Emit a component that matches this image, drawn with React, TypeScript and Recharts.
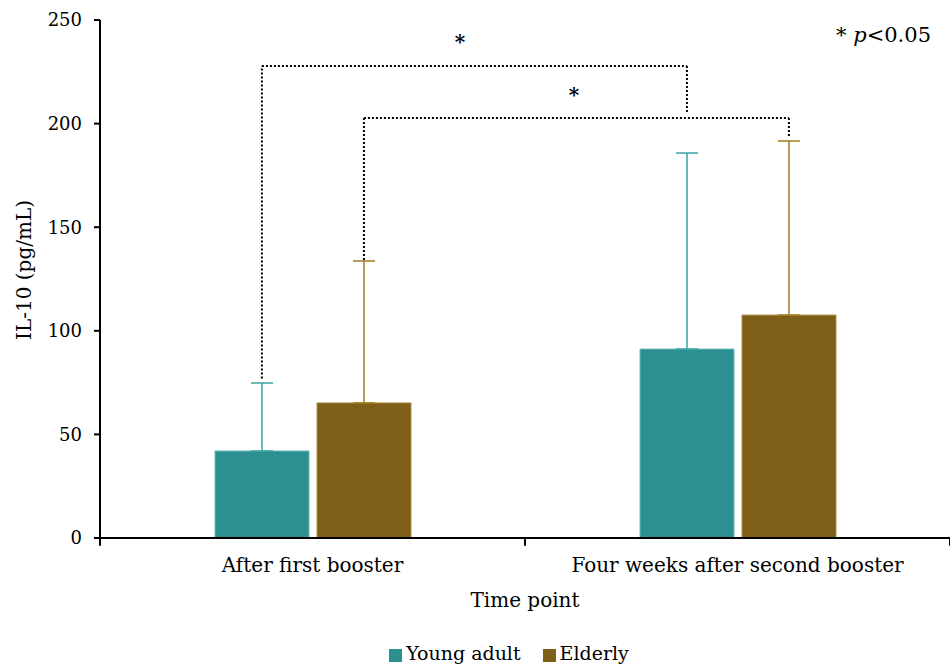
import React from "react";
import {
  BarChart,
  Bar,
  XAxis,
  YAxis,
  ErrorBar,
  ReferenceLine,
  ReferenceDot,
  Legend,
} from "recharts";

const categories = ["After first booster", "Four weeks after second booster"];
const categoryPositions = [0.5, 1.5];
const categoryBoundaries = [0, 1, 2];
const youngAdult = [42, 91.2];
const elderly = [65.2, 107.6];
const youngAdultSD = [32.8, 94.6];
const elderlySD = [68.5, 84];
const yTicks = [0, 50, 100, 150, 200, 250];

// significance brackets on a helper numeric x axis (0..2 spans both categories)
const bracketStartX = [0.381, 0.621];
const bracketEndX = [1.381, 1.621];
const bracketStartY = [77, 134.2];
const bracketTopY = [227.8, 202.7];
const bracketEndY = [205.6, 194];
const starX = [0.847, 1.115];
const starY = [241.8, 216.2];

const TEAL = "#2C9090";
const BROWN = "#7F5E17";
const FONT = "DejaVu Serif";

const data = categories.map((c, i) => ({
  name: c,
  pos: categoryPositions[i],
  adult: youngAdult[i],
  elderly: elderly[i],
  adultErr: [0, youngAdultSD[i]],
  elderlyErr: [0, elderlySD[i]],
}));

const emptyTick = () => <g />;

export default function App() {
  const segs: any[] = [];
  bracketStartX.forEach((x1, i) => {
    const x2 = bracketEndX[i];
    const pts = [
      [{ x: x1, y: bracketStartY[i] }, { x: x1, y: bracketTopY[i] }],
      [{ x: x1, y: bracketTopY[i] }, { x: x2, y: bracketTopY[i] }],
      [{ x: x2, y: bracketTopY[i] }, { x: x2, y: bracketEndY[i] }],
    ];
    pts.forEach((s, j) =>
      segs.push(
        <ReferenceLine
          key={`b${i}-${j}`}
          xAxisId="num"
          segment={s}
          stroke="#000"
          strokeWidth={2}
          strokeDasharray="2 2"
          ifOverflow="visible"
        />
      )
    );
  });

  return (
    <div style={{ position: "absolute", left: 0, top: 0, width: 950, height: 664, fontFamily: FONT }}>
      <BarChart
        width={950}
        height={664}
        data={data}
        margin={{ top: 20, right: 0, left: 0, bottom: 0 }}
        barCategoryGap={115}
        barGap={8}
      >
        <XAxis
          xAxisId="num"
          dataKey="pos"
          type="number"
          domain={[0, 2]}
          allowDataOverflow={true}
          ticks={categoryBoundaries}
          height={0}
          axisLine={false}
          tickLine={false}
          tick={emptyTick}
        />
        <XAxis
          dataKey="name"
          xAxisId={0}
          tickLine={false}
          axisLine={{ stroke: "#000", strokeWidth: 2 }}
          tick={{ fill: "#000", fontSize: 20, fontFamily: FONT }}
          tickMargin={14}
          height={104}
          label={{ value: "Time point", position: "insideTop", offset: 55, fill: "#000", fontSize: 20, fontFamily: FONT }}
        />
        <YAxis
          width={100}
          domain={[0, 250]}
          ticks={yTicks}
          axisLine={{ stroke: "#000", strokeWidth: 2 }}
          tickLine={{ stroke: "#000", strokeWidth: 2 }}
          tickSize={6}
          tickMargin={12}
          tick={{ fill: "#000", fontSize: 18, fontFamily: FONT }}
          label={{
            value: "IL-10 (pg/mL)",
            angle: -90,
            position: "insideLeft",
            offset: 24,
            dy: -9,
            style: { textAnchor: "middle" },
            fill: "#000",
            fontSize: 20,
            fontFamily: FONT,
          }}
        />
        <Legend
          verticalAlign="bottom"
          iconType="square"
          iconSize={13}
          itemSorter="dataKey"
          wrapperStyle={{ paddingLeft: 45 }}
          formatter={(v) => (
            <span style={{ color: "#000", fontSize: 19, fontFamily: FONT, marginRight: 12 }}>{v}</span>
          )}
        />
        <Bar dataKey="adult" name="Young adult" fill={TEAL} stroke="#6FB9B9" strokeWidth={1} isAnimationActive={false}>
          <ErrorBar dataKey="adultErr" width={11} stroke="#3AA3A3" strokeWidth={1.5} direction="y" />
        </Bar>
        <Bar dataKey="elderly" name="Elderly" fill={BROWN} stroke="#B09050" strokeWidth={1} isAnimationActive={false}>
          <ErrorBar dataKey="elderlyErr" width={11} stroke="#A07A20" strokeWidth={1.5} direction="y" />
        </Bar>
        {categoryBoundaries.map((b) => (
          <ReferenceLine
            key={`t${b}`}
            xAxisId="num"
            segment={[{ x: b, y: 0 }, { x: b, y: -3.8 }]}
            stroke="#000"
            strokeWidth={2}
            ifOverflow="visible"
          />
        ))}
        {segs}
        {starX.map((x, i) => (
          <ReferenceDot
            key={`s${i}`}
            xAxisId="num"
            x={x}
            y={starY[i]}
            r={0}
            fill="none"
            stroke="none"
            ifOverflow="visible"
            label={{ value: "*", position: "center", fill: "#000", fontSize: 20, fontFamily: FONT, fontWeight: "bold", dy: 5 }}
          />
        ))}
      </BarChart>
      <div
        style={{
          position: "absolute",
          left: 836,
          top: 23,
          fontSize: 21,
          fontFamily: FONT,
          color: "#000",
          whiteSpace: "nowrap",
        }}
      >
        * <i>p</i>&lt;0.05
      </div>
    </div>
  );
}
